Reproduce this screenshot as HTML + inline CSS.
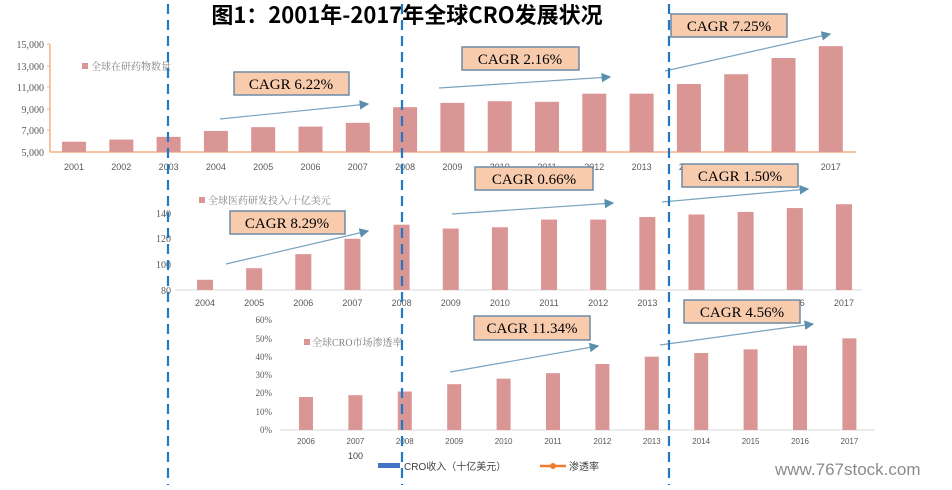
<!DOCTYPE html>
<html><head><meta charset="utf-8"><style>
body{margin:0;background:#fff}
svg text{font-family:"Liberation Serif","Noto Serif CJK SC",serif}
</style></head><body>
<svg width="952" height="485" xmlns="http://www.w3.org/2000/svg">
<defs><marker id="ar" markerWidth="8" markerHeight="8" refX="7" refY="4" orient="auto"><path d="M0,0 L8,4 L0,8 Z" fill="#5b8fae"/></marker></defs>
<text x="407" y="23" text-anchor="middle" font-size="22" font-weight="bold" style="font-family:'Noto Sans CJK SC','WenQuanYi Zen Hei','Liberation Sans',sans-serif">图1：2001年-2017年全球CRO发展状况</text>

<!-- Chart 1 -->
<g font-size="10" fill="#595959" style="font-family:'Liberation Sans',sans-serif">
<text x="44" y="48" text-anchor="end">15,000</text><text x="44" y="70" text-anchor="end">13,000</text><text x="44" y="91" text-anchor="end">11,000</text><text x="44" y="113" text-anchor="end">9,000</text><text x="44" y="134" text-anchor="end">7,000</text><text x="44" y="156" text-anchor="end">5,000</text>
</g>
<line x1="50" y1="44" x2="50" y2="152" stroke="#f4b183" stroke-width="1.5"/>
<g stroke="#f4b183"><line x1="47" y1="44" x2="50" y2="44"/><line x1="47" y1="66" x2="50" y2="66"/><line x1="47" y1="87" x2="50" y2="87"/><line x1="47" y1="109" x2="50" y2="109"/><line x1="47" y1="130" x2="50" y2="130"/></g>
<line x1="50" y1="152" x2="856" y2="152" stroke="#f4b183" stroke-width="1.5"/>
<rect x="82" y="63" width="6" height="6" fill="#d99694"/>
<text x="91" y="70" font-size="10" fill="#7f7f7f">全球在研药物数量</text>

<!-- Chart 2 -->
<g font-size="10" fill="#595959" style="font-family:'Liberation Sans',sans-serif">
<text x="171" y="217" text-anchor="end">140</text><text x="171" y="242" text-anchor="end">120</text><text x="171" y="268" text-anchor="end">100</text><text x="171" y="294" text-anchor="end">80</text>
</g>
<line x1="175" y1="290" x2="862" y2="290" stroke="#d9d9d9" stroke-width="1"/>
<rect x="199" y="197" width="6" height="6" fill="#d99694"/>
<text x="208" y="204" font-size="10" fill="#7f7f7f">全球医药研发投入/十亿美元</text>

<!-- Chart 3 -->
<g font-size="9" fill="#595959" style="font-family:'Liberation Sans',sans-serif">
<text x="272" y="323" text-anchor="end">60%</text><text x="272" y="342" text-anchor="end">50%</text><text x="272" y="360" text-anchor="end">40%</text><text x="272" y="378" text-anchor="end">30%</text><text x="272" y="396" text-anchor="end">20%</text><text x="272" y="415" text-anchor="end">10%</text><text x="272" y="433" text-anchor="end">0%</text>
</g>
<line x1="280" y1="430" x2="875" y2="430" stroke="#d9d9d9" stroke-width="1"/>
<rect x="304" y="339" width="6" height="6" fill="#d99694"/>
<text x="312" y="346" font-size="10" fill="#7f7f7f">全球CRO市场渗透率</text>

<g id="bars"></g>

<!-- bottom legend -->
<text x="348" y="459" font-size="9" fill="#404040" style="font-family:'Liberation Sans',sans-serif">100</text>
<rect x="378" y="463" width="22" height="5" fill="#4472c4"/>
<text x="404" y="470" font-size="10" fill="#404040" style="font-family:'Liberation Sans','Noto Sans CJK SC',sans-serif">CRO收入（十亿美元）</text>
<line x1="540" y1="466" x2="566" y2="466" stroke="#ed7d31" stroke-width="2.5"/><circle cx="553" cy="466" r="3" fill="#ed7d31"/>
<text x="569" y="470" font-size="10" fill="#404040" style="font-family:'Liberation Sans','Noto Sans CJK SC',sans-serif">渗透率</text>
<text x="775" y="475" font-size="17" fill="#8c8c8c" style="font-family:'Liberation Sans',sans-serif">www.767stock.com</text>

<!-- arrows -->
<g stroke="#7aa3bf" stroke-width="1.2" marker-end="url(#ar)">
<line x1="220" y1="119" x2="368" y2="104"/><line x1="439" y1="88" x2="610" y2="77"/><line x1="665" y1="71" x2="830" y2="34"/>
<line x1="226" y1="264" x2="368" y2="231"/><line x1="452" y1="214" x2="613" y2="203"/><line x1="662" y1="202" x2="808" y2="189"/>
<line x1="450" y1="372" x2="598" y2="346"/><line x1="660" y1="345" x2="813" y2="324"/>
</g>
<!-- CAGR boxes -->
<g font-size="15" fill="#000">
<g><rect x="234" y="72" width="115" height="23" fill="#f8cbad" stroke="#6f8aa5" stroke-width="1.5"/><text x="291" y="89" text-anchor="middle">CAGR  6.22%</text></g>
<g><rect x="462" y="47" width="117" height="23" fill="#f8cbad" stroke="#6f8aa5" stroke-width="1.5"/><text x="520" y="64" text-anchor="middle">CAGR  2.16%</text></g>
<g><rect x="671" y="14" width="116" height="23" fill="#f8cbad" stroke="#6f8aa5" stroke-width="1.5"/><text x="729" y="31" text-anchor="middle">CAGR  7.25%</text></g>
<g><rect x="475" y="167" width="118" height="23" fill="#f8cbad" stroke="#6f8aa5" stroke-width="1.5"/><text x="534" y="184" text-anchor="middle">CAGR  0.66%</text></g>
<g><rect x="682" y="164" width="116" height="23" fill="#f8cbad" stroke="#6f8aa5" stroke-width="1.5"/><text x="740" y="181" text-anchor="middle">CAGR  1.50%</text></g>
<g><rect x="230" y="211" width="115" height="23" fill="#f8cbad" stroke="#6f8aa5" stroke-width="1.5"/><text x="287" y="228" text-anchor="middle">CAGR  8.29%</text></g>
<g><rect x="474" y="316" width="116" height="24" fill="#f8cbad" stroke="#6f8aa5" stroke-width="1.5"/><text x="532" y="333" text-anchor="middle">CAGR  11.34%</text></g>
<g><rect x="684" y="300" width="116" height="23" fill="#f8cbad" stroke="#6f8aa5" stroke-width="1.5"/><text x="742" y="317" text-anchor="middle">CAGR  4.56%</text></g>
</g>
<!-- dashed lines -->
<g stroke="#1f78c8" stroke-width="2.2" stroke-dasharray="10,6">
<line x1="168" y1="4" x2="168" y2="485"/><line x1="402" y1="4" x2="402" y2="485"/><line x1="669" y1="4" x2="669" y2="485"/>
</g>
</svg>
<script>
var ns="http://www.w3.org/2000/svg",g=document.getElementById("bars");
function r(x,y,w,h){var e=document.createElementNS(ns,"rect");e.setAttribute("x",x);e.setAttribute("y",y);e.setAttribute("width",w);e.setAttribute("height",h);e.setAttribute("fill","#d99694");g.appendChild(e);}
function t(x,y,s,fs){var e=document.createElementNS(ns,"text");e.setAttribute("x",x);e.setAttribute("y",y);e.setAttribute("text-anchor","middle");e.setAttribute("font-size",fs);e.setAttribute("fill","#595959");e.setAttribute("style","font-family:'Liberation Sans',sans-serif");e.textContent=s;g.appendChild(e);}
var v1=[5950,6150,6400,6950,7300,7350,7700,9150,9550,9700,9650,10400,10400,11300,12200,13700,14800];
v1.forEach(function(v,i){var x=74+i*47.3,h=(v-5000)*0.0108;r(x-12,152-h,24,h);t(x,170,2001+i,9);});
var v2=[88,97,108,120,131,128,129,135,135,137,139,141,144,147];
v2.forEach(function(v,i){var x=205+i*49.15,h=(v-80)*1.28;r(x-8,290-h,16,h);t(x,306,2004+i,9);});
var v3=[18,19,21,25,28,31,36,40,42,44,46,50];
v3.forEach(function(v,i){var x=306+i*49.4,h=v*1.833;r(x-7,430-h,14,h);t(x,444,2006+i,8);});
</script>
</body></html>
